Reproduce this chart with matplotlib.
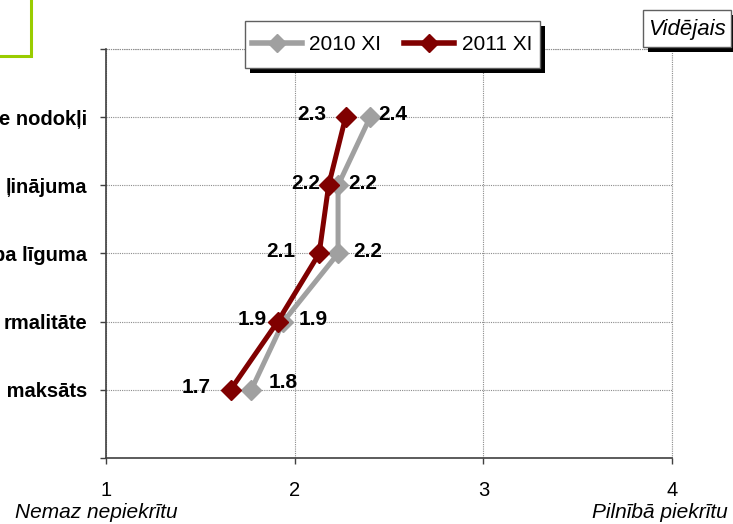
"""Vidējais vērtējums: 2010 XI vs 2011 XI"""
import matplotlib
matplotlib.use('Agg')
import matplotlib.pyplot as plt
from matplotlib.patches import Rectangle
from matplotlib.lines import Line2D

plt.rcParams['font.family'] = ['Liberation Sans', 'DejaVu Sans']

# data (top to bottom)
categories = ['e nodokļi', 'ļinājuma', 'ba līguma', 'rmalitāte', ' maksāts']
series_2010 = [2.40, 2.23, 2.23, 1.94, 1.77]
series_2011 = [2.27, 2.18, 2.13, 1.91, 1.66]
series_names = ['2010 XI', '2011 XI']
x_ticks = [1, 2, 3, 4]

# label gaps in pixels from marker centre (style only)
gap_2011 = [19, 8, 24, 11, 20]
gap_2010 = [8, 10, 15, 15, 17]
lift_2010 = [3, 2, 2, 2, 7]
lift_2011 = [3, 2, 2, 2, 2]

c_2010 = '#a0a0a0'
c_2011 = '#800000'
W, H = 733, 524

fig = plt.figure(figsize=(W / 100, H / 100), dpi=100)
ax = fig.add_axes([106 / W, 1 - 458 / H, (672 - 106) / W, (458 - 49) / H])

ypos = list(range(1, len(categories) + 1))
kw = dict(lw=3.6, marker='D', ms=10, solid_joinstyle='miter', zorder=3)
ax.plot(series_2010, ypos, color=c_2010, **kw)
ax.plot(series_2011, ypos, color=c_2011, **kw)

# data labels
for i, (v1, v2) in enumerate(zip(series_2010, series_2011)):
    ax.annotate(f'{v1:.1f}', (v1, ypos[i]), xytext=(gap_2010[i] * 0.72, lift_2010[i] * 0.72),
                textcoords='offset points', ha='left', va='center',
                fontsize=15, fontweight='bold', zorder=4)
    ax.annotate(f'{v2:.1f}', (v2, ypos[i]), xytext=(-gap_2011[i] * 0.72, lift_2011[i] * 0.72),
                textcoords='offset points', ha='right', va='center',
                fontsize=15, fontweight='bold', zorder=4)

ax.set_xlim(1, 4)
ax.set_ylim(len(categories) + 1, 0)
ax.set_xticks(x_ticks)
ax.set_xticklabels([str(t) for t in x_ticks], fontsize=14.5)
ax.set_yticks(range(0, len(categories) + 2))
ax.set_yticklabels([''] + categories + [''], fontsize=14.5, fontweight='bold')
ax.tick_params(axis='both', direction='out', length=4.5, width=1, color='#404040')
ax.tick_params(axis='x', pad=12)
ax.tick_params(axis='y', pad=9)

grid_kw = dict(color='#8c8c8c', lw=0.8, ls=(0, (1, 1)))
ax.grid(True, **grid_kw)
ax.axvline(x_ticks[-1], clip_on=False, zorder=0.5, **grid_kw)
ax.axhline(0, clip_on=False, zorder=0.5, **grid_kw)
ax.set_axisbelow(True)
for s in ['top', 'right']:
    ax.spines[s].set_visible(False)
for s in ['left', 'bottom']:
    ax.spines[s].set_color('#404040')
    ax.spines[s].set_linewidth(1.2)


def fig_box(x0, top, w, h, shadow=5, edge='#606060'):
    fig.patches.append(Rectangle(((x0 + shadow) / W, 1 - (top + h + shadow) / H), w / W, h / H,
                                 transform=fig.transFigure, facecolor='black',
                                 edgecolor='none', zorder=2))
    fig.patches.append(Rectangle((x0 / W, 1 - (top + h) / H), w / W, h / H,
                                 transform=fig.transFigure, facecolor='white',
                                 edgecolor=edge, lw=1, zorder=3))


# legend box
fig_box(245, 21, 295, 47)
handles = [Line2D([], [], color=c, lw=4, marker='D', ms=9) for c in (c_2010, c_2011)]
fig.legend(handles, series_names, loc='center', bbox_to_anchor=((245 + 147) / W, 1 - 44.5 / H),
           frameon=False, ncol=2, fontsize=15, handlelength=2.4, handletextpad=0.35,
           columnspacing=1.1)

# "Vidējais" box
fig_box(643, 10, 88, 37)
fig.text((643 + 44) / W, 1 - 29 / H, 'Vidējais', ha='center', va='center',
         fontsize=16, style='italic', zorder=5)

# green frame in the corner
fig.patches.append(Rectangle((-10 / W, 1 - 56 / H), 41 / W, 70 / H, transform=fig.transFigure,
                             facecolor='none', edgecolor='#99cc00', lw=2.2, zorder=3))

fig.text(15 / W, 1 - 503 / H, 'Nemaz nepiekrītu', ha='left', va='top',
         fontsize=15, style='italic')
fig.text(728 / W, 1 - 503 / H, 'Pilnībā piekrītu', ha='right', va='top',
         fontsize=15, style='italic')

fig.savefig('out.png', dpi=100)
